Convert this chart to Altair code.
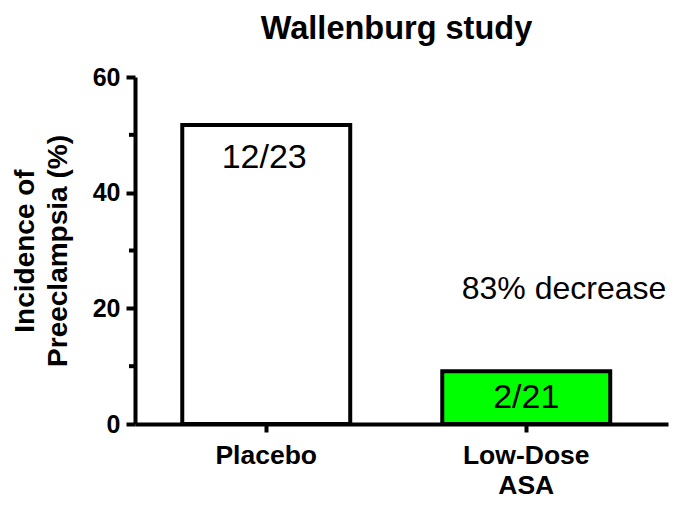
import altair as alt
import pandas as pd

groups = ["Placebo", "Low-Dose ASA"]
values = [51.7, 9.1]
counts = ["12/23", "2/21"]
fills = ["#ffffff", "#00ff00"]
minor_ticks = [10, 30, 50]
annotation = "83% decrease"
annotation_value = 23.3

df = pd.DataFrame({"group": groups, "value": values, "count": counts, "fill": fills})
minor_df = pd.DataFrame({"v": minor_ticks})
ann_df = pd.DataFrame({"t": [annotation], "v": [annotation_value]})

FONT = "Liberation Sans"

xscale = alt.Scale(domain=groups, paddingInner=0.354, paddingOuter=0.202, align=0.45)
yscale = alt.Scale(domain=[0, 60], nice=False)

bars = alt.Chart(df).mark_bar(stroke="black", strokeWidth=4).encode(
    x=alt.X("group:N", scale=xscale, sort=groups,
            axis=alt.Axis(title=None, labelAngle=0, labelFont=FONT, labelFontSize=26.5,
                          labelFontWeight="bold", labelColor="black", labelPadding=10,
                          labelExpr="datum.value == 'Low-Dose ASA' ? ['Low-Dose', 'ASA'] : datum.value",
                          labelLineHeight=30,
                          domainColor="black", domainWidth=4, tickColor="black",
                          tickWidth=4, tickSize=8)),
    y=alt.Y("value:Q", scale=yscale,
            axis=alt.Axis(title=["Incidence of", "Preeclampsia (%)"], values=[0, 20, 40, 60],
                          titleFont=FONT, titleFontSize=28, titleFontWeight="bold",
                          titleColor="black", titlePadding=20, titleLineHeight=33,
                          labelFont=FONT, labelFontSize=25, labelFontWeight="bold",
                          labelColor="black", labelPadding=6, grid=False,
                          domainColor="black", domainWidth=4, tickColor="black",
                          tickWidth=4, tickSize=9)),
    fill=alt.Fill("fill:N", scale=None),
)

minor = alt.Chart(minor_df).mark_rule(color="black", strokeWidth=4).encode(
    y=alt.Y("v:Q", scale=yscale),
    x=alt.value(-6),
    x2=alt.value(0),
)

label_top = alt.Chart(df).transform_filter(alt.datum.group == groups[0]).mark_text(
    font=FONT, fontSize=34, baseline="middle", dy=33, dx=-2, color="black").encode(
    x=alt.X("group:N", scale=xscale, sort=groups),
    y=alt.Y("value:Q", scale=yscale),
    text="count:N",
)

label_low = alt.Chart(df).transform_filter(alt.datum.group == groups[1]).mark_text(
    font=FONT, fontSize=34, baseline="middle", dy=27, color="black").encode(
    x=alt.X("group:N", scale=xscale, sort=groups),
    y=alt.Y("value:Q", scale=yscale),
    text="count:N",
)

ann = alt.Chart(ann_df).mark_text(font=FONT, fontSize=32, baseline="middle", color="black").encode(
    x=alt.value(429),
    y=alt.Y("v:Q", scale=yscale),
    text="t:N",
)

chart = alt.layer(bars, minor, label_top, label_low, ann).properties(
    width=533, height=347,
    title=alt.TitleParams("Wallenburg study", font=FONT, fontSize=32.5, fontWeight="bold",
                          color="black", anchor="middle", offset=20, dx=-5),
    autosize=alt.AutoSizeParams(type="none"),
    padding={"left": 127, "top": 69, "right": 9, "bottom": 77},
).configure_view(stroke=None)

chart.save("out.html", embed_options={"renderer": "svg", "actions": False})
